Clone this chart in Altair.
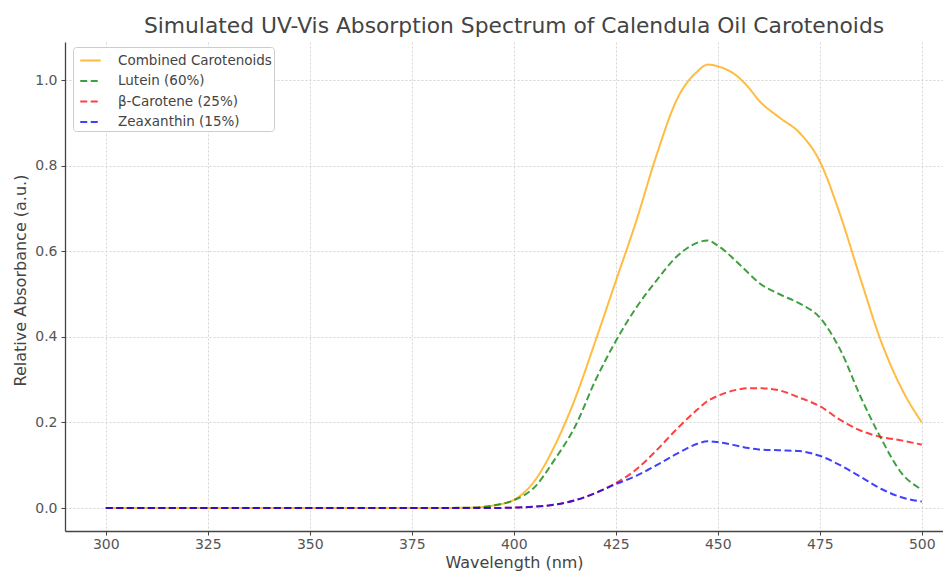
import altair as alt
import pandas as pd

wavelength = [300, 310, 320, 330, 340, 350, 360, 370, 380, 390, 395, 400, 405, 410,
              415, 420, 425, 430, 435, 440, 445, 447.5, 450, 455, 457.5, 460, 465,
              470, 475, 480, 485, 490, 495, 500]

combined = [0, 0, 0, 0, 0, 0, 0, 0, 0, 0.001, 0.006, 0.019, 0.062, 0.145, 0.255, 0.39,
            0.53, 0.67, 0.825, 0.955, 1.02, 1.036, 1.032, 1.007, 0.983, 0.953, 0.913,
            0.877, 0.81, 0.685, 0.535, 0.39, 0.28, 0.2]
lutein = [0, 0, 0, 0, 0, 0, 0, 0, 0, 0.001, 0.006, 0.018, 0.048, 0.113, 0.19, 0.298,
          0.39, 0.468, 0.532, 0.588, 0.62, 0.625, 0.613, 0.572, 0.549, 0.527, 0.5,
          0.478, 0.445, 0.37, 0.26, 0.163, 0.082, 0.043]
beta_carotene = [0, 0, 0, 0, 0, 0, 0, 0, 0, 0, 0, 0.001, 0.003, 0.008, 0.018, 0.035,
                 0.058, 0.09, 0.135, 0.185, 0.23, 0.25, 0.262, 0.277, 0.28, 0.28, 0.275,
                 0.258, 0.238, 0.206, 0.181, 0.166, 0.158, 0.148]
zeaxanthin = [0, 0, 0, 0, 0, 0, 0, 0, 0, 0, 0, 0.001, 0.003, 0.008, 0.018, 0.035,
              0.056, 0.075, 0.1, 0.127, 0.15, 0.156, 0.154, 0.145, 0.14, 0.137, 0.135,
              0.133, 0.122, 0.1, 0.073, 0.045, 0.025, 0.015]

series_names = ["Combined Carotenoids", "Lutein (60%)", "β-Carotene (25%)", "Zeaxanthin (15%)"]
series_colors = ["#FFA500", "#008000", "#FF0000", "#0000FF"]
series_dash = [[1, 0], [7, 3.5], [7, 3.5], [7, 3.5]]

x_ticks = [300, 325, 350, 375, 400, 425, 450, 475, 500]
y_ticks = [0.0, 0.2, 0.4, 0.6, 0.8, 1.0]

rows = []
for name, vals in zip(series_names, [combined, lutein, beta_carotene, zeaxanthin]):
    for w, v in zip(wavelength, vals):
        rows.append({"wavelength": w, "absorbance": v, "series": name})
df = pd.DataFrame(rows)

FONT = "DejaVu Sans"

legend = alt.Legend(
    title=None, orient="none", legendX=8, legendY=5,
    symbolType="stroke", symbolSize=420, symbolStrokeWidth=2, symbolOpacity=0.75,
    symbolOffset=4,
    labelFontSize=13.5, labelFont=FONT, labelColor="#444",
    padding=2, rowPadding=2.5, labelOffset=16,
    fillColor="white", strokeColor="#cccccc", cornerRadius=3,
)

chart = alt.Chart(df).mark_line(
    strokeWidth=2, opacity=0.75, interpolate="monotone", clip=True
).encode(
    x=alt.X("wavelength:Q",
            scale=alt.Scale(domain=[290, 505.2], nice=False, zero=False),
            axis=alt.Axis(values=x_ticks, format="d", title="Wavelength (nm)",
                          labelPadding=2,
                          titleX=449, titleY=36, titleBaseline="alphabetic",
                          titleAlign="center")),
    y=alt.Y("absorbance:Q",
            scale=alt.Scale(domain=[-0.0537, 1.0888], nice=False, zero=False),
            axis=alt.Axis(values=y_ticks, format=".1f", title="Relative Absorbance (a.u.)",
                          labelPadding=4,
                          titleX=-45, titleY=238, titleAngle=-90,
                          titleBaseline="middle", titleAlign="center")),
    color=alt.Color("series:N", scale=alt.Scale(domain=series_names, range=series_colors),
                    legend=legend),
    strokeDash=alt.StrokeDash("series:N", scale=alt.Scale(domain=series_names, range=series_dash),
                              legend=legend),
    order=alt.Order("wavelength:Q"),
).properties(
    width=878, height=489,
    autosize=alt.AutoSizeParams(type="none"),
    padding={"left": 57, "top": 34, "right": 0, "bottom": 41},
    title=alt.TitleParams(
        "Simulated UV-Vis Absorption Spectrum of Calendula Oil Carotenoids",
        fontSize=21.8, font=FONT, fontWeight="normal", color="#444",
        anchor="middle", frame="group", offset=4, dx=10),
).configure_view(stroke=None).configure_axis(
    labelFont=FONT, labelFontSize=14, labelColor="#555",
    titleFont=FONT, titleFontSize=16, titleFontWeight="normal", titleColor="#444",
    domainColor="#444", domainWidth=1.3, tickColor="#444", tickSize=4,
    grid=True, gridColor="#d5d5d5", gridDash=[2, 2], gridWidth=1,
)

chart.save("out.html", embed_options={"renderer": "svg", "actions": False})
